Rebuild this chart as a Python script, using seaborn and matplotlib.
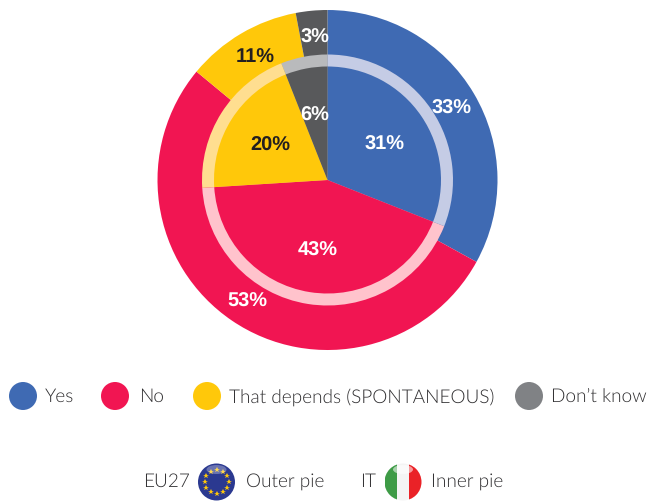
import math
import matplotlib
matplotlib.use("Agg")
import matplotlib.pyplot as plt
from matplotlib.patches import Circle, Rectangle, Ellipse
import seaborn as sns

categories = ["Yes", "No", "That depends (SPONTANEOUS)", "Don\u2019t know"]
eu27 = [33, 53, 11, 3]
italy = [31, 43, 20, 6]
pie_hex = ["#3F6AB3", "#F11552", "#FFC80A", "#58595B"]
ring_hex = ["#C5CCE5", "#FFC3CC", "#FFDE90", "#B9BABC"]
legend_hex = ["#3F6AB3", "#F11552", "#FFC80A", "#808285"]
label_hex = ["white", "white", "#231F20", "white"]

sns.set_theme(style="white")
plt.rcParams["text.hinting"] = "no_hinting"
plt.rcParams["text.hinting_factor"] = 1
bold = ["Liberation Sans", "DejaVu Sans"]
W, H = 649, 501
fig = plt.figure(figsize=(W / 100, H / 100), dpi=100, facecolor="white")
ax = fig.add_axes([0, 0, 1, 1])


def Y(y):
    return H - y


centre = (327.5, Y(180))
pie_opts = dict(startangle=90, counterclock=False, center=centre, wedgeprops=dict(linewidth=0))
ax.pie(eu27, radius=170, colors=sns.color_palette(pie_hex), **pie_opts)
ax.pie(italy, radius=125.5, colors=sns.color_palette(ring_hex), **pie_opts)
ax.pie(italy, radius=113.5, colors=sns.color_palette(pie_hex), **pie_opts)

outer_xy = [(452, 109), (247, 302), (255, 58), (315, 38)]
inner_xy = [(385, 145), (318, 251), (270, 146), (315, 116)]
for vals, spots in ((eu27, outer_xy), (italy, inner_xy)):
    for v, (x, y), c in zip(vals, spots, label_hex):
        ax.text(x, Y(y), f"{v}%", color=c, fontsize=14.6, fontweight="bold", family=bold,
                ha="center", va="center", zorder=10)

ax.set_xlim(0, W)
ax.set_ylim(0, H)
ax.set_aspect("auto")
ax.axis("off")

text_c = "#2F2E30"
face = dict(color=text_c, family=["Lato", "DejaVu Sans"], fontweight=300, ha="left", va="center")
dots_x = [23, 115, 207, 529]
text_x = [45, 139, 229, 551]
legend_texts = []
for dx, tx, name, col in zip(dots_x, text_x, categories, legend_hex):
    ax.add_patch(Circle((dx, Y(396)), 14, facecolor=col, linewidth=0))
    legend_texts.append(ax.text(tx, Y(397), name, fontsize=14, **face))
legend_texts.append(ax.text(143, Y(482), "EU27", fontsize=14, **face))
legend_texts.append(ax.text(246, Y(481), "Outer pie", fontsize=14, **face))
legend_texts.append(ax.text(360, Y(482), "IT", fontsize=14, **face))
legend_texts.append(ax.text(431, Y(481), "Inner pie", fontsize=14, **face))

# one size for all legend text, fitted to the width of the longest entry
renderer = fig.canvas.get_renderer()
size = 14 * 260 / legend_texts[2].get_window_extent(renderer).width
for t in legend_texts:
    t.set_fontsize(size)

# EU flag badge
eu_c = (216.5, Y(482))
ax.add_patch(Circle(eu_c, 18.5, facecolor="#2B3990", linewidth=0, zorder=3))
for k in range(12):
    a = math.radians(30 * k)
    ax.plot(eu_c[0] + 12 * math.cos(a), eu_c[1] + 12 * math.sin(a), marker="*", ms=4,
            color="#FFC80A", mew=0, zorder=4)
ax.add_patch(Ellipse((eu_c[0], eu_c[1] + 12.5), 20, 9, facecolor="white", alpha=0.3, linewidth=0, zorder=5))

# Italian flag badge
it_c = (403, Y(482))
clip = Circle(it_c, 18.5, transform=ax.transData)
for off, col in zip((-18.5, -6.2, 6.2), ("#3E9B46", "#F4F4F4", "#EA2227")):
    r = Rectangle((it_c[0] + off, it_c[1] - 19), 12.4, 38, facecolor=col, linewidth=0, zorder=3)
    ax.add_patch(r)
    r.set_clip_path(clip)
ax.add_patch(Ellipse((it_c[0], it_c[1] + 12.5), 20, 9, facecolor="white", alpha=0.55, linewidth=0, zorder=5))

ax.set_xlim(0, W)
ax.set_ylim(0, H)
fig.savefig("out.png", dpi=100, facecolor="white")
